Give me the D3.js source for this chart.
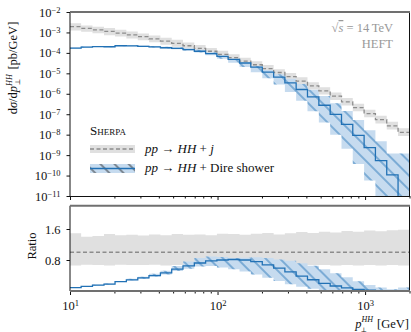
<html>
<head>
<script src="https://d3js.org/d3.v7.min.js"></script>
<style>
  body { margin: 0; background: #fff; }
  text { font-family: "Liberation Serif", "DejaVu Serif", serif; fill: #111; }
</style>
</head>
<body>
<div id="chart"></div>
<script>
// bin edges in GeV (log binning)
const binEdges = [10, 11.9, 14.2, 17.0, 20.2, 24.1, 28.8, 34.3, 41.0, 48.9, 58.3, 69.6, 83.0, 99.0, 118, 141,
                  168, 201, 240, 286, 341, 407, 486, 580, 692, 825, 985, 1175, 1402, 1673, 2000];

// pp -> HH + j  (pb/GeV)
const hjValues = [1.91e-3, 1.58e-3, 1.35e-3, 1.12e-3, 9.3e-4, 7.6e-4, 6.2e-4, 4.9e-4, 3.8e-4, 2.95e-4,
                  2.24e-4, 1.66e-4, 1.20e-4, 8.5e-5, 5.9e-5, 4.0e-5, 2.63e-5, 1.70e-5, 1.10e-5, 6.9e-6,
                  4.2e-6, 2.45e-6, 1.38e-6, 7.6e-7, 4.0e-7, 2.1e-7, 1.07e-7, 5.4e-8, 2.7e-8, 1.30e-8];
// scale band as ratio to central
const hjUp = [1.49, 1.40, 1.42, 1.47, 1.44, 1.45, 1.43, 1.46, 1.44, 1.47, 1.45, 1.46, 1.44, 1.48, 1.47,
              1.45, 1.48, 1.50, 1.46, 1.49, 1.52, 1.50, 1.53, 1.51, 1.55, 1.53, 1.56, 1.54, 1.57, 1.58];
const hjDown = [0.66, 0.68, 0.67, 0.66, 0.68, 0.67, 0.67, 0.68, 0.66, 0.67, 0.68, 0.67, 0.66, 0.67, 0.68,
                0.67, 0.66, 0.67, 0.68, 0.67, 0.66, 0.67, 0.67, 0.66, 0.67, 0.66, 0.67, 0.66, 0.67, 0.66];

// pp -> HH + Dire shower (pb/GeV)
const direValues = [1.70e-4, 1.91e-4, 2.04e-4, 2.00e-4, 2.24e-4, 2.19e-4, 2.09e-4, 1.95e-4, 1.78e-4, 1.66e-4,
                    1.45e-4, 1.20e-4, 9.3e-5, 6.8e-5, 4.8e-5, 3.2e-5, 2.0e-5, 1.15e-5, 6.5e-6, 3.4e-6,
                    1.62e-6, 7.1e-7, 2.75e-7, 9.8e-8, 3.2e-8, 9.3e-9, 2.3e-9, 5.4e-10, 1.07e-10, 3e-12];
// band edges in decades above / below central
const direUpDex = [0.03, 0.03, 0.03, 0.03, 0.03, 0.04, 0.04, 0.05, 0.05, 0.06, 0.07, 0.07, 0.06, 0.04, 0.02,
                   0.03, 0.06, 0.10, 0.14, 0.20, 0.27, 0.35, 0.45, 0.55, 0.65, 0.75, 0.85, 0.95, 1.05, 2.6];
const direDownDex = [0.02, 0.02, 0.02, 0.02, 0.02, 0.02, 0.03, 0.03, 0.04, 0.04, 0.05, 0.06, 0.08, 0.12, 0.16,
                     0.20, 0.25, 0.30, 0.36, 0.45, 0.55, 0.70, 0.85, 1.0, 1.2, 1.4, 1.6, 1.8, 2.0, 1.0];

const yTickExps = [-2, -3, -4, -5, -6, -7, -8, -9, -10, -11];
const ratioTicks = [0.8, 1.6];
const xTickExps = [1, 2, 3];

const blue = '#2171b5', blueFill = '#c6dbef', grayFill = '#e0e0e0', grayLine = '#8c8c8c';

const svg = d3.select('#chart').append('svg').attr('width', 411).attr('height', 332);
const defs = svg.append('defs');

const x = d3.scaleLog().domain([10, 2000]).range([70, 409.5]);
const yTop = d3.scaleLog().domain([1e-11, 1e-2]).range([196, 12]);
const yRat = d3.scaleLinear().domain([0, 2.2]).range([291, 205.75]);

defs.append('clipPath').attr('id', 'clipTop').append('rect')
    .attr('x', 70).attr('y', 12).attr('width', 339.5).attr('height', 184);
defs.append('clipPath').attr('id', 'clipRat').append('rect')
    .attr('x', 70).attr('y', 205.75).attr('width', 339.5).attr('height', 85.25);

function hatch(id, color) {
    defs.append('pattern').attr('id', id)
        .attr('patternUnits', 'userSpaceOnUse')
        .attr('width', 10).attr('height', 10)
        .attr('patternTransform', 'rotate(45)')
      .append('line')
        .attr('x1', 0).attr('y1', 5).attr('x2', 10).attr('y2', 5)
        .attr('stroke', color).attr('stroke-width', 0.9);
}
hatch('hatchBlue', blue);
hatch('hatchDark', '#222');

// step helpers
function stepLine(vals) {
    const pts = [];
    vals.forEach((v, i) => { pts.push([binEdges[i], v]); pts.push([binEdges[i + 1], v]); });
    return pts;
}
function stepBand(lo, hi) {
    const pts = [];
    lo.forEach((v, i) => {
        pts.push([binEdges[i], v, hi[i]]);
        pts.push([binEdges[i + 1], v, hi[i]]);
    });
    return pts;
}

function drawPanel(clipId, y, grayBand, blueBand, grayCentral, blueCentral) {
    const g = svg.append('g').attr('clip-path', `url(#${clipId})`);
    const area = d3.area().x(d => x(d[0])).y0(d => y(d[1])).y1(d => y(d[2]));
    const line = d3.line().x(d => x(d[0])).y(d => y(d[1]));
    g.append('path').attr('d', area(grayBand)).attr('fill', grayFill);
    g.append('path').attr('d', area(blueBand)).attr('fill', blueFill);
    g.append('path').attr('d', area(blueBand)).attr('fill', 'url(#hatchBlue)');
    g.append('path').attr('d', line(grayCentral)).attr('fill', 'none')
        .attr('stroke', grayLine).attr('stroke-width', 1.3).attr('stroke-dasharray', '4,2.5');
    g.append('path').attr('d', line(blueCentral)).attr('fill', 'none')
        .attr('stroke', blue).attr('stroke-width', 1.3);
}

// top panel
const direHi = direValues.map((v, i) => v * Math.pow(10, direUpDex[i]));
const direLo = direValues.map((v, i) => v * Math.pow(10, -direDownDex[i]));
drawPanel('clipTop', yTop,
    stepBand(hjValues.map((v, i) => v * hjDown[i]), hjValues.map((v, i) => v * hjUp[i])),
    stepBand(direLo, direHi),
    stepLine(hjValues), stepLine(direValues));

// ratio panel
drawPanel('clipRat', yRat,
    stepBand(hjDown, hjUp),
    stepBand(direLo.map((v, i) => v / hjValues[i]), direHi.map((v, i) => v / hjValues[i])),
    stepLine(hjValues.map(v => v / v)), stepLine(direValues.map((v, i) => v / hjValues[i])));

// axes
function supLabel(sel, base, exp, size) {
    sel.text(null);
    sel.append('tspan').text(base);
    sel.append('tspan').attr('dy', '-0.45em').attr('font-size', size).text(exp);
}
const fmtExp = e => (e < 0 ? '\u2212' + (-e) : '' + e);

const yAxisTop = svg.append('g').attr('transform', 'translate(70,0)')
    .call(d3.axisLeft(yTop).tickValues(yTickExps.map(e => Math.pow(10, e))).tickSize(3.5).tickPadding(6).tickSizeOuter(0));
yAxisTop.selectAll('.tick text').each(function (d) {
    supLabel(d3.select(this), '10', fmtExp(Math.round(Math.log10(d))), 8.5);
});

const yAxisRat = svg.append('g').attr('transform', 'translate(70,0)')
    .call(d3.axisLeft(yRat).tickValues(ratioTicks).tickFormat(d3.format('.1f')).tickSize(3.5).tickPadding(6).tickSizeOuter(0));

const allX = x.ticks();
const majorX = xTickExps.map(e => Math.pow(10, e));
const minorX = allX.filter(v => !majorX.includes(v));

[196, 291].forEach(yy => {
    svg.append('g').attr('transform', `translate(0,${yy})`)
        .call(d3.axisBottom(x).tickValues(minorX).tickSize(2.5).tickFormat('').tickSizeOuter(0));
    const maj = svg.append('g').attr('transform', `translate(0,${yy})`)
        .call(d3.axisBottom(x).tickValues(majorX).tickSize(4).tickPadding(6).tickSizeOuter(0));
    if (yy === 196) maj.selectAll('.tick text').remove();
    else maj.selectAll('.tick text').each(function (d) {
        supLabel(d3.select(this), '10', fmtExp(Math.round(Math.log10(d))), 8.5);
    });
});

svg.selectAll('.domain').remove();
svg.selectAll('.tick line').attr('stroke', '#111');
svg.selectAll('.tick text')
    .attr('font-family', '"Liberation Serif", "DejaVu Serif", serif')
    .attr('font-size', 12.5).attr('fill', '#111');

// frames
function frame(top, bottom, topGray, bottomGray) {
    svg.append('line').attr('x1', 70).attr('x2', 70).attr('y1', top).attr('y2', bottom).attr('stroke', '#111');
    svg.append('line').attr('x1', 409.5).attr('x2', 409.5).attr('y1', top).attr('y2', bottom).attr('stroke', '#111');
    svg.append('line').attr('x1', 70).attr('x2', 410).attr('y1', top).attr('y2', top)
        .attr('stroke', topGray ? '#707070' : '#111').attr('stroke-width', topGray ? 2 : 1);
    svg.append('line').attr('x1', 70).attr('x2', 410).attr('y1', bottom).attr('y2', bottom)
        .attr('stroke', bottomGray ? '#707070' : '#111').attr('stroke-width', bottomGray ? 2 : 1);
}
frame(12, 196.5, true, false);
frame(205.75, 291, true, true);

// axis labels
const yLab = svg.append('text')
    .attr('transform', 'translate(17,68) rotate(-90)')
    .attr('text-anchor', 'middle').attr('font-size', 12.5);
yLab.append('tspan').text('d');
yLab.append('tspan').attr('font-style', 'italic').text('\u03c3');
yLab.append('tspan').text('/d');
yLab.append('tspan').attr('font-style', 'italic').text('p');
yLab.append('tspan').attr('font-style', 'italic').attr('font-size', 8).attr('dy', -5).text('HH');
yLab.append('tspan').attr('font-size', 7).attr('dx', -11).attr('dy', 8).text('\u22a5');
yLab.append('tspan').attr('dx', 6).attr('dy', -3).text(' [pb/GeV]');

svg.append('text')
    .attr('transform', 'translate(36,246) rotate(-90)')
    .attr('text-anchor', 'middle').attr('font-size', 12.5).text('Ratio');

// p_perp^HH: superscript and subscript drawn as separate texts
const xLab = svg.append('text').attr('x', 409).attr('y', 327.5)
    .attr('text-anchor', 'end').attr('font-size', 12.5);
xLab.append('tspan').attr('font-style', 'italic').text('p');
xLab.append('tspan').attr('font-style', 'italic').attr('font-size', 8).attr('dy', -5.5).text('HH');
xLab.append('tspan').attr('dx', 1).attr('dy', 5.5).text(' [GeV]');
const pBox = xLab.node().getBBox();
svg.append('text').attr('x', pBox.x + 6.5).attr('y', 331.5)
    .attr('font-size', 6.5).text('\u22a5');

// annotation
const ann = svg.append('text').attr('x', 393).attr('y', 32).attr('text-anchor', 'end')
    .attr('font-size', 12.5).style('fill', '#999');
ann.append('tspan').text('\u221a');
ann.append('tspan').attr('font-style', 'italic').style('text-decoration', 'overline').text('s');
ann.append('tspan').text(' = 14\u2009TeV');
svg.append('text').attr('x', 393).attr('y', 48).attr('text-anchor', 'end')
    .attr('font-size', 12.5).style('fill', '#999').text('HEFT');

// legend
svg.append('text').attr('x', 90).attr('y', 135).attr('font-size', 13)
    .style('font-variant', 'small-caps').text('Sherpa');

const leg1 = svg.append('g');
leg1.append('rect').attr('x', 90).attr('y', 145).attr('width', 45).attr('height', 8).attr('fill', grayFill);
leg1.append('line').attr('x1', 90).attr('x2', 135).attr('y1', 149).attr('y2', 149)
    .attr('stroke', grayLine).attr('stroke-width', 1.3).attr('stroke-dasharray', '4,2.5');
const t1 = leg1.append('text').attr('x', 145).attr('y', 153).attr('font-size', 13);
t1.append('tspan').attr('font-style', 'italic').text('pp');
t1.append('tspan').text(' \u2192 ');
t1.append('tspan').attr('font-style', 'italic').text('HH');
t1.append('tspan').text(' + ');
t1.append('tspan').attr('font-style', 'italic').text('j');

const leg2 = svg.append('g');
leg2.append('rect').attr('x', 90).attr('y', 164).attr('width', 45).attr('height', 9).attr('fill', blueFill);
leg2.append('rect').attr('x', 90).attr('y', 164).attr('width', 45).attr('height', 9).attr('fill', 'url(#hatchDark)');
leg2.append('line').attr('x1', 90).attr('x2', 135).attr('y1', 168.5).attr('y2', 168.5)
    .attr('stroke', blue).attr('stroke-width', 1.3);
const t2 = leg2.append('text').attr('x', 145).attr('y', 172).attr('font-size', 13);
t2.append('tspan').attr('font-style', 'italic').text('pp');
t2.append('tspan').text(' \u2192 ');
t2.append('tspan').attr('font-style', 'italic').text('HH');
t2.append('tspan').text(' + Dire shower');
</script>
</body>
</html>
